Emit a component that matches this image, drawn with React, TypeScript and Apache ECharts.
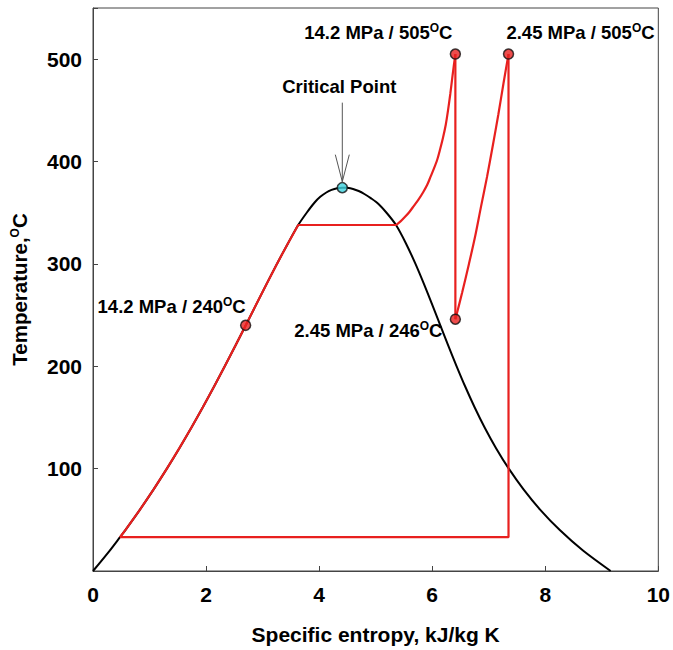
import React, { useEffect, useRef } from "react";
import * as echarts from "echarts";

// Saturation dome (s in kJ/kg K, T in °C)
const satLiquid: [number, number][] = [
  [0, 0.01], [0.2966, 20], [0.4767, 33], [0.5724, 40], [0.8312, 60], [1.0753, 80],
  [1.3069, 100], [1.5278, 120], [1.7391, 140], [1.9427, 160], [2.1396, 180],
  [2.3305, 200], [2.5182, 220], [2.702, 240], [2.8838, 260], [3.0668, 280],
  [3.2534, 300], [3.448, 320], [3.63, 338], [3.78, 350], [3.92, 360],
  [4.02, 365.5], [4.12, 369.5], [4.22, 372.3], [4.32, 374],
];
const criticalPoint: [number, number][] = [[4.41, 374.5]];
const satVapor: [number, number][] = [
  [4.5, 374.3], [4.6, 373.2], [4.7, 371.2], [4.8, 368.3], [4.92, 364],
  [5.05, 358.5], [5.2, 349.5], [5.36, 338],
  [5.5362, 320], [5.7045, 300], [5.8571, 280], [6.0019, 260], [6.1437, 240],
  [6.2861, 220], [6.4323, 200], [6.5857, 180], [6.7502, 160], [6.9299, 140],
  [7.1296, 120], [7.3549, 100], [7.6122, 80], [7.9085, 60], [8.257, 40],
  [8.6672, 20], [9.1562, 0.01],
];

// Rankine cycle with reheat
const heating: [number, number][] = [
  [0.4767, 33], [0.5724, 40], [0.8312, 60], [1.0753, 80], [1.3069, 100],
  [1.5278, 120], [1.7391, 140], [1.9427, 160], [2.1396, 180], [2.3305, 200],
  [2.5182, 220], [2.702, 240], [2.8838, 260], [3.0668, 280], [3.2534, 300],
  [3.448, 320], [3.63, 338], [5.36, 338],
];
const superheatHP: [number, number][] = [
  [5.36, 338], [5.44, 341.5], [5.52, 346], [5.6, 351], [5.68, 357], [5.76, 363],
  [5.84, 370], [5.91, 377], [5.97, 385], [6.03, 393], [6.09, 402], [6.14, 412],
  [6.19, 423], [6.24, 436], [6.28, 450], [6.32, 466], [6.36, 484], [6.41, 505],
];
const turbineHP: [number, number][] = [[6.41, 505], [6.41, 246]];
const reheatLP: [number, number][] = [
  [6.41, 246], [6.53, 272], [6.65, 300], [6.76, 327], [6.86, 355],
  [6.97, 385], [7.07, 415], [7.17, 446], [7.26, 476], [7.35, 505],
];
const turbineLPCondenser: [number, number][] = [[7.35, 505], [7.35, 33], [0.4767, 33]];

const statePoints: [number, number][] = [[2.7, 240], [6.41, 505], [7.35, 505], [6.41, 246]];
const stateLabels = [
  "14.2 MPa / 240{sup|O}C",
  "14.2 MPa / 505{sup|O}C",
  "2.45 MPa / 505{sup|O}C",
  "2.45 MPa / 246{sup|O}C",
];
const criticalLabel = "Critical Point";

const xMin = 0, xMax = 10, xStep = 2;
const yMin = 0, yMax = 550, yStep = 100;
const yLabelsShown = [100, 200, 300, 400, 500];

const labelOffsets: [number, number][] = [[-74, -19], [-77, -22], [72, -22], [-87, 11]];

const RED = "#e8201f";
const INK = "#000";
const FONT = "Liberation Sans, Arial, sans-serif";
const supRich = {
  sup: { fontSize: 12, fontWeight: "bold", verticalAlign: "top", color: INK, fontFamily: FONT, lineHeight: 21 },
};

export default function App() {
  const ref = useRef<HTMLDivElement>(null);
  useEffect(() => {
    if (!ref.current) return;
    const chart = echarts.init(ref.current, null, { renderer: "svg" });
    const redLine = (data: [number, number][], name: string) => ({
      type: "line", name, data, symbol: "none", z: 3,
      lineStyle: { color: RED, width: 2.2 }, smooth: false,
    });
    const annot = {
      show: true, position: "inside", fontSize: 18.5, fontWeight: "bold", color: INK,
      fontFamily: FONT, rich: supRich, align: "center", verticalAlign: "middle",
      textBorderWidth: 0, textShadowBlur: 0, opacity: 1,
    };
    const option: any = {
      animation: false,
      backgroundColor: "#fff",
      grid: { left: 93, right: 14, top: 8, bottom: 79, show: true, borderColor: "#444", borderWidth: 1 },
      xAxis: {
        type: "value", min: xMin, max: xMax, interval: xStep,
        name: "Specific entropy, kJ/kg K", nameLocation: "middle", nameGap: 53,
        nameTextStyle: { fontSize: 21, fontWeight: "bold", color: INK, fontFamily: FONT },
        axisLine: { lineStyle: { color: "#444", width: 1 } },
        axisTick: { inside: true, length: 5, lineStyle: { color: "#444" } },
        axisLabel: { fontSize: 21, fontWeight: "bold", color: INK, margin: 13, fontFamily: FONT },
        splitLine: { show: false },
      },
      yAxis: {
        type: "value", min: yMin, max: yMax, interval: yStep,
        name: "Temperature,{sup|O}C", nameLocation: "middle", nameGap: 63, nameRotate: 90,
        nameTextStyle: { fontSize: 20.5, fontWeight: "bold", color: INK, fontFamily: FONT, rich: supRich },
        axisLine: { show: true, lineStyle: { color: "#444", width: 1 } },
        axisTick: { show: true, inside: true, length: 5, lineStyle: { color: "#444" } },
        axisLabel: {
          fontSize: 21, fontWeight: "bold", color: INK, margin: 11, fontFamily: FONT,
          formatter: (v: number) => (yLabelsShown.includes(v) ? String(v) : ""),
        },
        splitLine: { show: false },
      },
      series: [
        {
          type: "line", name: "dome", data: [...satLiquid, ...criticalPoint, ...satVapor],
          symbol: "none", smooth: 0.3, z: 2, lineStyle: { color: "#000", width: 2 },
        },
        redLine(heating, "heating"),
        { ...redLine(superheatHP, "superheat"), smooth: 0.3 },
        redLine(turbineHP, "hp"),
        { ...redLine(reheatLP, "reheat"), smooth: 0.3 },
        redLine(turbineLPCondenser, "lp"),
        {
          type: "scatter", name: "states", z: 5, symbolSize: 10,
          itemStyle: { color: RED, borderColor: "#111", borderWidth: 1.5 },
          data: statePoints.map((p, i) => ({
            value: p,
            label: { ...annot, offset: labelOffsets[i], formatter: stateLabels[i] },
          })),
        },
        {
          type: "scatter", name: "critical", z: 5, symbolSize: 10,
          itemStyle: { color: "#3fd3e0", borderColor: "#111", borderWidth: 1.5 },
          data: criticalPoint.map((p) => ({
            value: p,
            label: { ...annot, offset: [-3, -101], formatter: criticalLabel },
          })),
        },
      ],
    };
    chart.setOption(option);
    const tip = chart.convertToPixel({ gridIndex: 0 }, criticalPoint[0]) as number[];
    const tx = tip[0], ty = tip[1] - 6;
    chart.setOption({
      graphic: [
        { type: "line", shape: { x1: tx, y1: ty - 79, x2: tx, y2: ty }, style: { stroke: "#555", lineWidth: 1 }, z: 10 },
        {
          type: "polyline",
          shape: { points: [[tx - 7, ty - 27], [tx, ty], [tx + 7, ty - 27]] },
          style: { stroke: "#555", lineWidth: 1, fill: "none" }, z: 10,
        },
      ],
    });
    return () => chart.dispose();
  }, []);
  return <div ref={ref} style={{ position: "fixed", left: 0, top: 0, width: 673, height: 650 }} />;
}
